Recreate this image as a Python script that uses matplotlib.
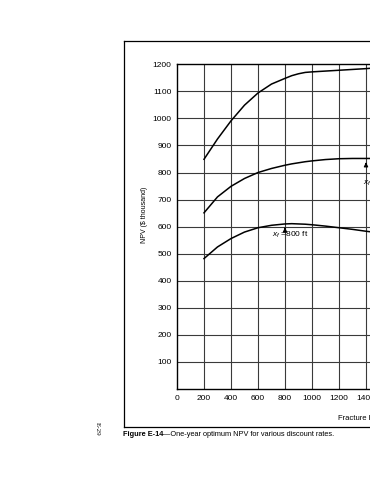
import matplotlib
matplotlib.use("Agg")
import matplotlib.pyplot as plt
from matplotlib.lines import Line2D

plt.rcParams["font.family"] = ["Liberation Sans", "DejaVu Sans"]
plt.rcParams["mathtext.fontset"] = "custom"
plt.rcParams["mathtext.it"] = "Liberation Sans:italic"
plt.rcParams["mathtext.rm"] = "Liberation Sans"

# fracture half-length (ft) and one-year NPV ($ thousand)
half_length = [200, 300, 400, 500, 600, 700, 800, 850, 900, 950, 1000, 1100, 1200, 1300, 1400, 1450]
npv_top = [849, 924, 991, 1049, 1094, 1127, 1148, 1158, 1165, 1170, 1172, 1175, 1178, 1181, 1184, 1186]
npv_mid = [651, 710, 749, 778, 800, 815, 827, 832, 836, 840, 843, 848, 851, 852, 852, 852]
npv_low = [482, 525, 556, 580, 596, 605, 610, 611, 610, 609, 607, 602, 596, 590, 583, 580]

x_ticks = [0, 200, 400, 600, 800, 1000, 1200, 1400, 1600]
y_ticks = [100, 200, 300, 400, 500, 600, 700, 800, 900, 1000, 1100, 1200]

W, H = 370, 480
fig = plt.figure(figsize=(W / 100, H / 100), dpi=100)
fig.patch.set_facecolor("white")

# axes placed in pixel terms, running off the right edge like the scan
ax_left, ax_right_px, ax_top, ax_bottom = 177, 177 + 216, 64.3, 389
ax = fig.add_axes([ax_left / W, 1 - ax_bottom / H, (ax_right_px - ax_left) / W, (ax_bottom - ax_top) / H])
ax.set_xlim(0, 1600)
ax.set_ylim(0, 1200)

for xv in x_ticks[1:]:
    ax.axvline(xv, color="#3a3a3a", lw=0.8, zorder=1)
for yv in y_ticks[:-1]:
    ax.axhline(yv, color="#3a3a3a", lw=0.8, zorder=1)

for yv in (npv_top, npv_mid, npv_low):
    ax.plot(half_length, yv, color="black", lw=1.1, zorder=3, clip_on=False)

ax.set_xticks(x_ticks)
ax.set_yticks(y_ticks)
ax.tick_params(length=0, labelsize=6, pad=4)
for sp in ax.spines.values():
    sp.set_linewidth(1.0)
    sp.set_color("black")

# optimum markers
ax.annotate("", xy=(800, 607), xytext=(800, 583),
            arrowprops=dict(arrowstyle="-|>", color="black", lw=0.8, mutation_scale=6))
ax.text(703, 570, r"$x_f$ =800 ft", fontsize=6, va="center", ha="left")
ax.annotate("", xy=(1400, 848), xytext=(1400, 820),
            arrowprops=dict(arrowstyle="-|>", color="black", lw=0.8, mutation_scale=6))
ax.text(1378, 762, r"$x_f$ = 1400 ft", fontsize=6, va="center", ha="left", clip_on=False)

fig.text(145 / W, 1 - 215 / H, "NPV ($ thousand)", rotation=90, fontsize=5,
         ha="center", va="center")
fig.text(338 / W, 1 - 418 / H, "Fracture Half-Length (ft)", fontsize=5.5,
         ha="left", va="center")

# outer frame of the figure panel
box_l, box_t, box_b = 124 / W, 1 - 41 / H, 1 - 427 / H
fig.add_artist(Line2D([box_l, box_l], [box_b, box_t], color="black", lw=0.9))
fig.add_artist(Line2D([box_l, 1.0], [box_t, box_t], color="black", lw=0.9))
fig.add_artist(Line2D([box_l, 1.0], [box_b, box_b], color="black", lw=0.9))

cap = fig.text(123 / W, 1 - 434 / H, "Figure E-14", fontsize=5.3, fontweight="bold",
               ha="left", va="center")
rest = fig.text(0, 0, "\u2014One-year optimum NPV for various discount rates.", fontsize=5.3,
                ha="left", va="center")
fig.canvas.draw()
bb = cap.get_window_extent().transformed(fig.transFigure.inverted())
rest.set_position((bb.x1, 1 - 434 / H))

fig.text(97 / W, 1 - 429 / H, "E-29", rotation=-90, fontsize=5, family="Liberation Serif",
         ha="center", va="center")

fig.savefig("out.png", dpi=100)
